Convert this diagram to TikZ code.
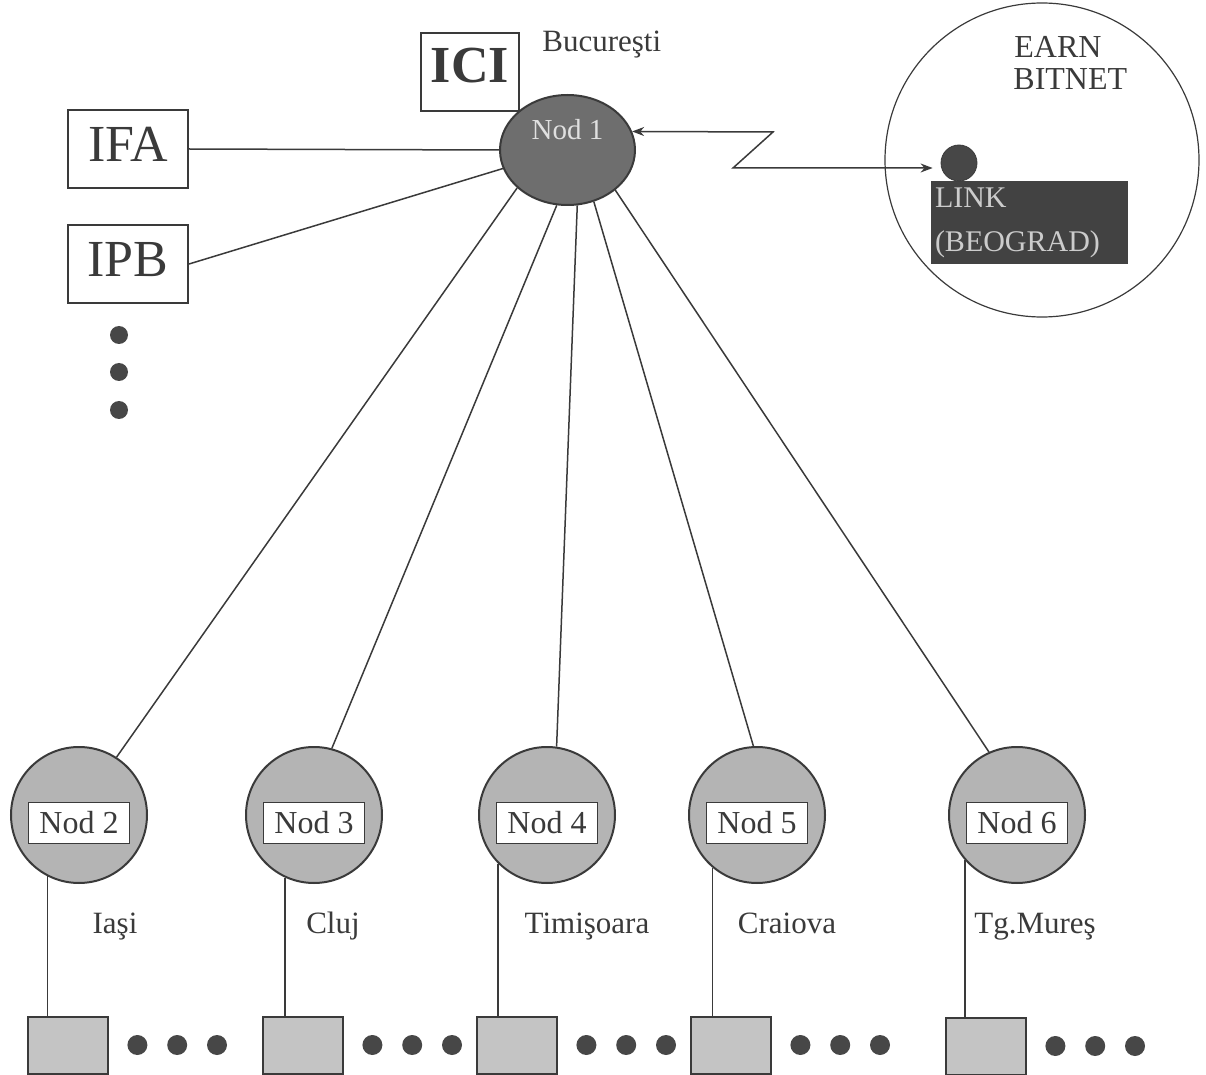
\documentclass[tikz,border=0pt]{standalone}
\usepackage{fontspec}
\setmainfont{Liberation Serif}
\usetikzlibrary{positioning,arrows.meta,shapes.geometric}
\definecolor{ink}{HTML}{3A3A3A}
\definecolor{hubgray}{HTML}{6E6E6E}
\definecolor{nodgray}{HTML}{B4B4B4}
\definecolor{termgray}{HTML}{C4C4C4}
\tikzset{
  hub/.style    = {ellipse, draw=ink, line width=1pt, fill=hubgray, inner sep=0pt,
                   minimum width=67.5pt, minimum height=55pt},
  hubtxt/.style = {font=\fontsize{14.5}{14.5}\selectfont, text=black!12, inner sep=0pt},
  nod/.style    = {circle, draw=ink, line width=1pt, fill=nodgray, inner sep=0pt, minimum size=68pt},
  tag/.style    = {rectangle, draw=ink, line width=0.8pt, fill=white, inner sep=0pt,
                   minimum width=50.5pt, minimum height=20.5pt, font=\fontsize{16}{16}\selectfont, text=ink},
  inst/.style   = {rectangle, draw=ink, line width=1pt, fill=white, inner sep=0pt, text depth=5pt,
                   minimum width=60pt, minimum height=39pt, font=\fontsize{26}{26}\selectfont, text=ink},
  term/.style   = {rectangle, draw=ink, line width=1pt, fill=termgray, minimum width=40pt, minimum height=28.5pt},
  punct/.style  = {circle, fill=black!72, inner sep=0pt, minimum size=10pt},
  oras/.style   = {font=\fontsize{15.5}{15.5}\selectfont, text=ink, inner sep=0pt, anchor=base},
  link/.style   = {line width=0.75pt, draw=ink},
  dbl/.style    = {{Stealth[length=6pt,width=4.5pt]}-{Stealth[length=6pt,width=4.5pt]}, line width=0.75pt, draw=ink},
}

\begin{document}
\begin{tikzpicture}[x=0.5pt,y=-0.5pt]
  \useasboundingbox (0,0) rectangle (1206,1075);

  % centre: Bucuresti
  \node[inst, minimum width=49pt, text depth=7pt, font=\fontsize{26}{26}\selectfont\bfseries] (ici) at (470,72) {ICI};
  \node[oras, anchor=base west] (buc) at (542,52) {Bucureşti};
  \node[hub] (n1) at (567.5,150) {};
  \node[hubtxt, anchor=base] (n1t) at (567.5,140) {Nod 1};

  \node[inst] (ifa) at (128,149) {IFA};
  \node[inst] (ipb) at (128,264) {IPB};
  \node[punct, minimum size=9pt] (v1) at (119,335) {};
  \node[punct, minimum size=9pt] (v2) at (119,372) {};
  \node[punct, minimum size=9pt] (v3) at (119,410) {};
  \draw[link] (ifa.east) -- (n1.180);
  \draw[link] (ipb.east) -- (n1.196);

  % EARN / BITNET
  \node[circle, draw=ink, line width=0.6pt, minimum size=157pt, inner sep=0pt] (earn) at (1042,160) {};
  \node[oras, anchor=base west, font=\fontsize{16}{16}\selectfont] (earnt) at (1014,58) {EARN};
  \node[oras, anchor=base west, font=\fontsize{16}{16}\selectfont] (bitt) at (1013,90) {BITNET};
  \node[rectangle, fill=black!74, minimum width=98.5pt, minimum height=38.5pt, inner xsep=2pt,
        text width=94.5pt, align=left, text=black!20, font=\fontsize{15}{22}\selectfont] (bx) at (1029.5,222.5) {LINK\\(BEOGRAD)};
  \node[circle, draw=ink, fill=black!72, minimum size=18pt, inner sep=0pt] (gw) at (959,163) {};

  \coordinate (z1) at (773,132);
  \coordinate (z2) at (733,168);
  \draw[dbl] (n1.16) -- (z1) -- (z2) -- ([xshift=-4pt]z2 -| gw.west);

  % regional nodes
  \node[nod] (n2) at (79,815) {};
  \node[nod] (n3) at (314,815) {};
  \node[nod] (n4) at (547,815) {};
  \node[nod] (n5) at (757,815) {};
  \node[nod] (n6) at (1017,815) {};
  \node[tag] (k2) at ([yshift=-4pt]n2.center) {Nod 2};
  \node[tag] (k3) at ([yshift=-4pt]n3.center) {Nod 3};
  \node[tag] (k4) at ([yshift=-4pt]n4.center) {Nod 4};
  \node[tag] (k5) at ([yshift=-4pt]n5.center) {Nod 5};
  \node[tag] (k6) at ([yshift=-4pt]n6.center) {Nod 6};

  \draw[link] (n1.217) -- (n2.57);
  \draw[link] (n1.259) -- (n3.75);
  \draw[link] (n1.280) -- (n4.82);
  \draw[link] (n1.297) -- (n5.93);
  \draw[link] (n1.320) -- (n6.114);

  \node[oras] (l2) at (115,933) {Iaşi};
  \node[oras] (l3) at (333,933) {Cluj};
  \node[oras] (l4) at (587,933) {Timişoara};
  \node[oras] (l5) at (787,933) {Craiova};
  \node[oras] (l6) at (1035,933) {Tg.Mureş};

  % terminals
  \node[term] (t2) at (68,1045) {};
  \node[term] (t3) at (303,1045) {};
  \node[term] (t4) at (517,1045) {};
  \node[term] (t5) at (731,1045) {};
  \node[term] (t6) at (986,1046) {};
  \draw[link] (n2.243) -- (n2.243 |- t2.north);
  \draw[link] (n3.245) -- (n3.245 |- t3.north);
  \draw[link] (n4.225) -- (n4.225 |- t4.north);
  \draw[link] (n5.230) -- (n5.230 |- t5.north);
  \draw[link] (n6.221) -- (n6.221 |- t6.north);

  \node[punct, right=9pt of t2] (d2a) {};
  \node[punct, right=9.5pt of d2a] (d2b) {};
  \node[punct, right=9.5pt of d2b] (d2c) {};
  \node[punct, right=9pt of t3] (d3a) {};
  \node[punct, right=9.5pt of d3a] (d3b) {};
  \node[punct, right=9.5pt of d3b] (d3c) {};
  \node[punct, right=9pt of t4] (d4a) {};
  \node[punct, right=9.5pt of d4a] (d4b) {};
  \node[punct, right=9.5pt of d4b] (d4c) {};
  \node[punct, right=9pt of t5] (d5a) {};
  \node[punct, right=9.5pt of d5a] (d5b) {};
  \node[punct, right=9.5pt of d5b] (d5c) {};
  \node[punct, right=9pt of t6] (d6a) {};
  \node[punct, right=9.5pt of d6a] (d6b) {};
  \node[punct, right=9.5pt of d6b] (d6c) {};
\end{tikzpicture}
\end{document}
